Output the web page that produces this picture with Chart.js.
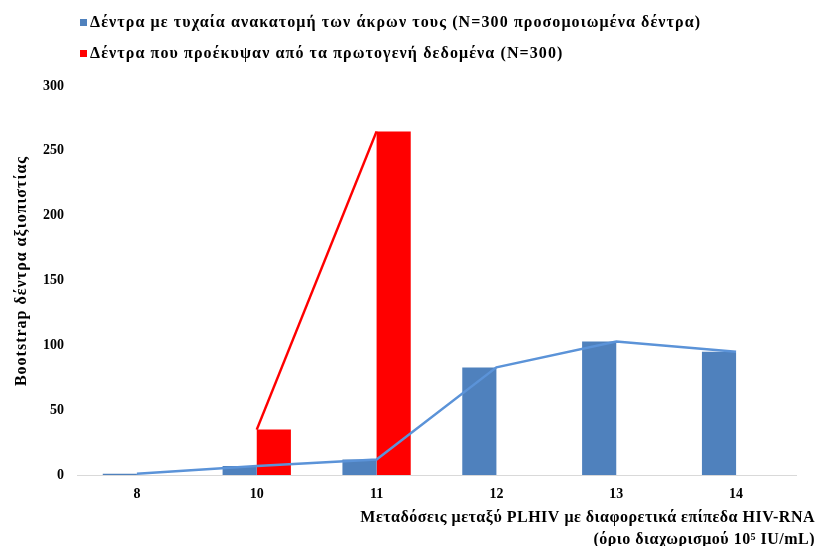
<!DOCTYPE html>
<html>
<head>
<meta charset="utf-8">
<script src="https://cdn.jsdelivr.net/npm/chart.js@4/dist/chart.umd.min.js"></script>
<style>
  html, body { margin: 0; padding: 0; background: #ffffff; }
  #wrap { position: relative; width: 817px; height: 546px; }
  #legend { position: absolute; left: 80px; top: 10px; font-family: "Liberation Serif", serif; font-weight: bold; font-size: 16px; letter-spacing: 1.1px; color: #000; }
  #legend .item { display: flex; align-items: center; height: 24px; margin-bottom: 7px; white-space: nowrap; }
  #legend .sw { width: 7px; height: 7px; margin-right: 3px; }
</style>
</head>
<body>
<div id="wrap">
  <canvas id="chart" width="817" height="546"></canvas>
  <div id="legend"></div>
</div>
<script>
// Number of transmissions between PLHIV groups (category axis)
const categories = ['8', '10', '11', '12', '13', '14'];
// Bootstrap support counts per category
const randomizedTrees = [1, 7, 12, 83, 103, 95];
const observedTrees = [null, 35, 265, null, null, null];
const yTicks = [0, 50, 100, 150, 200, 250, 300];

const seriesNames = [
  'Δέντρα με τυχαία ανακατομή των άκρων τους (N=300 προσομοιωμένα δέντρα)',
  'Δέντρα που προέκυψαν από τα πρωτογενή δεδομένα (N=300)'
];
const yTitle = 'Bootstrap δέντρα αξιοπιστίας';
const xTitleLines = [
  'Μεταδόσεις μεταξύ PLHIV με διαφορετικά επίπεδα HIV-RNA',
  '(όριο διαχωρισμού 10⁵ IU/mL)'
];

const BAR_BLUE = '#4f81bd';
const LINE_BLUE = '#5b93d8';
const RED = '#ff0000';
const FONT = '"Liberation Serif", "Times New Roman", serif';

// legend built as HTML so both entries stack at the left
const legendEl = document.getElementById('legend');
[[BAR_BLUE, seriesNames[0]], [RED, seriesNames[1]]].forEach(([c, t]) => {
  const row = document.createElement('div');
  row.className = 'item';
  const sw = document.createElement('span');
  sw.className = 'sw';
  sw.style.background = c;
  const tx = document.createElement('span');
  tx.textContent = t;
  row.appendChild(sw);
  row.appendChild(tx);
  legendEl.appendChild(row);
});

// axis captions drawn with a little letter spacing:
// two-line x caption right aligned to the canvas edge, rotated y caption
const axisCaptions = {
  id: 'axisCaptions',
  afterDraw(chart) {
    const ctx = chart.ctx;
    ctx.save();
    ctx.fillStyle = '#000';
    ctx.textBaseline = 'middle';
    ctx.font = 'bold 16px ' + FONT;
    ctx.letterSpacing = '0.5px';
    ctx.textAlign = 'right';
    ctx.fillText(xTitleLines[0], 815, 518);
    ctx.fillText(xTitleLines[1], 815, 540);
    ctx.letterSpacing = '1px';
    ctx.textAlign = 'center';
    ctx.translate(22, 271);
    ctx.rotate(-Math.PI / 2);
    ctx.fillText(yTitle, 0, 0);
    ctx.restore();
  }
};

new Chart(document.getElementById('chart'), {
  data: {
    labels: categories,
    datasets: [
      { type: 'line', data: randomizedTrees, borderColor: LINE_BLUE, borderWidth: 2.5, pointRadius: 0, order: 0, tension: 0 },
      { type: 'line', data: observedTrees, borderColor: RED, borderWidth: 2.5, pointRadius: 0, order: 0, tension: 0, spanGaps: false },
      { type: 'bar', label: seriesNames[0], data: randomizedTrees, backgroundColor: BAR_BLUE, order: 1, categoryPercentage: 0.57, barPercentage: 1 },
      { type: 'bar', label: seriesNames[1], data: observedTrees, backgroundColor: RED, order: 1, categoryPercentage: 0.57, barPercentage: 1 }
    ]
  },
  options: {
    responsive: false,
    animation: false,
    layout: { padding: { top: 86, right: 21, left: 0, bottom: 0 } },
    plugins: { legend: { display: false }, tooltip: { enabled: false } },
    scales: {
      x: {
        grid: { display: false, drawTicks: false },
        border: { display: true, color: '#d9d9d9', width: 1 },
        ticks: { color: '#000', font: { family: FONT, size: 14, weight: 'bold' }, padding: 11 },
        afterFit(s) { s.height = 71; }
      },
      y: {
        min: 0, max: 300,
        afterBuildTicks(s) { s.ticks = yTicks.map(v => ({ value: v })); },
        grid: { display: false, drawTicks: false },
        border: { display: false },
        ticks: { color: '#000', font: { family: FONT, size: 14, weight: 'bold' }, padding: 13 },
        afterFit(s) { s.width = 77; }
      }
    }
  },
  plugins: [axisCaptions]
});
</script>
</body>
</html>
